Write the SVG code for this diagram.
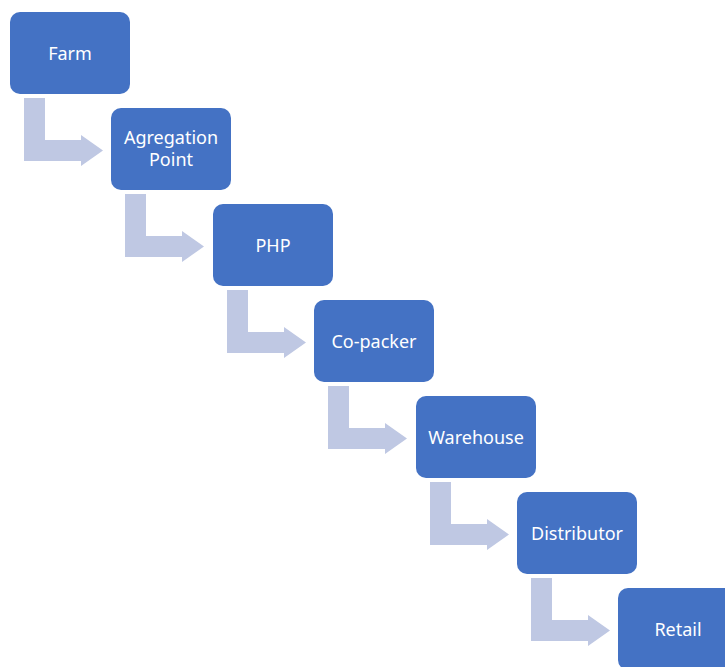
<svg xmlns="http://www.w3.org/2000/svg" width="725" height="667" viewBox="0 0 725 667">
<style>
.box{fill:#4472C4;}
.lbl{fill:#FFFFFF;font-family:"Noto Sans","Open Sans",sans-serif;font-size:18px;text-anchor:middle;}
.arr{fill:#BFC8E3;}
</style>
<defs>
<polygon id="bent" points="14,86 35,86 35,128 71,128 71,123 93,138.5 71,154 71,149 14,149"/>
</defs>
<rect width="725" height="667" fill="#FFFFFF"/>
<g id="connectors">
<use href="#bent" class="arr" x="10" y="12"/>
<use href="#bent" class="arr" x="111" y="108"/>
<use href="#bent" class="arr" x="213" y="204"/>
<use href="#bent" class="arr" x="314" y="300"/>
<use href="#bent" class="arr" x="416" y="396"/>
<use href="#bent" class="arr" x="517" y="492"/>
</g>
<g id="farm"><rect class="box" x="10" y="12" width="120" height="82" rx="10"/><text class="lbl" x="70" y="59.5">Farm</text></g>
<g id="agregation"><rect class="box" x="111" y="108" width="120" height="82" rx="10"/><text class="lbl" x="171" y="144">Agregation</text><text class="lbl" x="171" y="166">Point</text></g>
<g id="php"><rect class="box" x="213" y="204" width="120" height="82" rx="10"/><text class="lbl" x="273" y="251.5">PHP</text></g>
<g id="copacker"><rect class="box" x="314" y="300" width="120" height="82" rx="10"/><text class="lbl" x="374" y="347.5">Co-packer</text></g>
<g id="warehouse"><rect class="box" x="416" y="396" width="120" height="82" rx="10"/><text class="lbl" x="476" y="443.5">Warehouse</text></g>
<g id="distributor"><rect class="box" x="517" y="492" width="120" height="82" rx="10"/><text class="lbl" x="577" y="539.5">Distributor</text></g>
<g id="retail"><rect class="box" x="618" y="588" width="120" height="82" rx="10"/><text class="lbl" x="678" y="635.5">Retail</text></g>
</svg>
